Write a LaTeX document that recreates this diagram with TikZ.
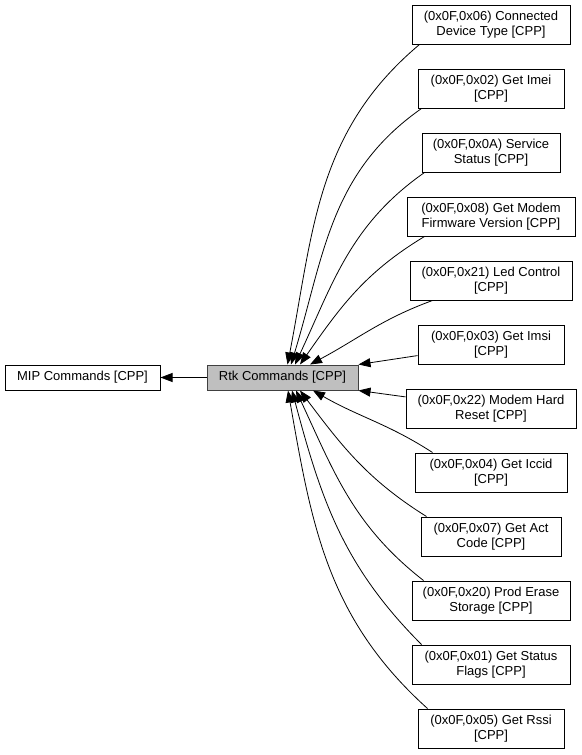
\documentclass[tikz,border=0pt]{standalone}
\usepackage{fontspec}
\setmainfont{Liberation Sans}
\usetikzlibrary{arrows.meta}
\tikzset{
  cmd/.style={draw, line width=1pt, align=center, inner sep=0pt,
    minimum height=39pt, font=\fontsize{13}{14.5}\selectfont},
  grp/.style={cmd, minimum height=25pt},
  dep/.style={line width=0.8pt, -{Triangle[length=12pt,width=9pt]}},
}
\begin{document}
\begin{tikzpicture}[x=1pt,y=1pt]
    \useasboundingbox (0,0) rectangle (581,-755);
    % groups
    \node[grp,minimum width=155pt] (mip) at (82.5,-377.5) {MIP Commands [CPP]};
    \node[grp,fill=black!25,draw=black!75,minimum width=151pt] (rtk) at (282.5,-377.5)
        {Rtk Commands [CPP]};
    % commands
    \node[cmd,minimum width=158pt] (devtype) at (491,-24.5)  {(0x0F,0x06) Connected\\Device Type [CPP]};
    \node[cmd,minimum width=146pt] (imei)    at (491,-88.5)  {(0x0F,0x02) Get Imei\\{[CPP]}};
    \node[cmd,minimum width=138pt] (svcstat) at (491,-152.5) {(0x0F,0x0A) Service\\Status [CPP]};
    \node[cmd,minimum width=168pt] (fwver)   at (491,-216.5) {(0x0F,0x08) Get Modem\\Firmware Version [CPP]};
    \node[cmd,minimum width=162pt] (led)     at (491,-280.5) {(0x0F,0x21) Led Control\\{[CPP]}};
    \node[cmd,minimum width=146pt] (imsi)    at (491,-344.5) {(0x0F,0x03) Get Imsi\\{[CPP]}};
    \node[cmd,minimum width=170pt] (hardrst) at (491,-408.5) {(0x0F,0x22) Modem Hard\\Reset [CPP]};
    \node[cmd,minimum width=152pt] (iccid)   at (491,-472.5) {(0x0F,0x04) Get Iccid\\{[CPP]}};
    \node[cmd,minimum width=140pt] (actcode) at (491,-536.5) {(0x0F,0x07) Get Act\\Code [CPP]};
    \node[cmd,minimum width=158pt] (erase)   at (491,-600.5) {(0x0F,0x20) Prod Erase\\Storage [CPP]};
    \node[cmd,minimum width=158pt] (flags)   at (491,-664.5) {(0x0F,0x01) Get Status\\Flags [CPP]};
    \node[cmd,minimum width=146pt] (rssi)    at (491,-728.5) {(0x0F,0x05) Get Rssi\\{[CPP]}};
    % edges
    \draw[dep] (rtk) -- (mip);
    \draw[dep] ([xshift=8pt]devtype.south west) to[out=220,in=79] ([xshift=5pt]rtk.north);
    \draw[dep] ([xshift=4pt]imei.south west) to[out=215,in=73] ([xshift=8.5pt]rtk.north);
    \draw[dep] ([xshift=3pt]svcstat.south west) to[out=215,in=65] ([xshift=12.5pt]rtk.north);
    \draw[dep] ([xshift=18pt]fwver.south west) to[out=211,in=55] ([xshift=17.5pt]rtk.north);
    \draw[dep] ([xshift=23pt]led.south west) to[out=200,in=28] ([xshift=27.5pt]rtk.north);
    \draw[dep] (imsi) -- (rtk.north east);
    \draw[dep] (hardrst) -- (rtk.south east);
    \draw[dep] ([xshift=18pt]iccid.north west) to[out=147,in=330] ([xshift=30.5pt]rtk.south);
    \draw[dep] ([xshift=6pt]actcode.north west) to[out=148,in=307] ([xshift=17.5pt]rtk.south);
    \draw[dep] ([xshift=12pt]erase.north west) to[out=142,in=295] ([xshift=13.5pt]rtk.south);
    \draw[dep] ([xshift=10pt]flags.north west) to[out=135,in=285] ([xshift=9.5pt]rtk.south);
    \draw[dep] ([xshift=10pt]rssi.north west) to[out=138,in=280] ([xshift=5.5pt]rtk.south);
\end{tikzpicture}
\end{document}
